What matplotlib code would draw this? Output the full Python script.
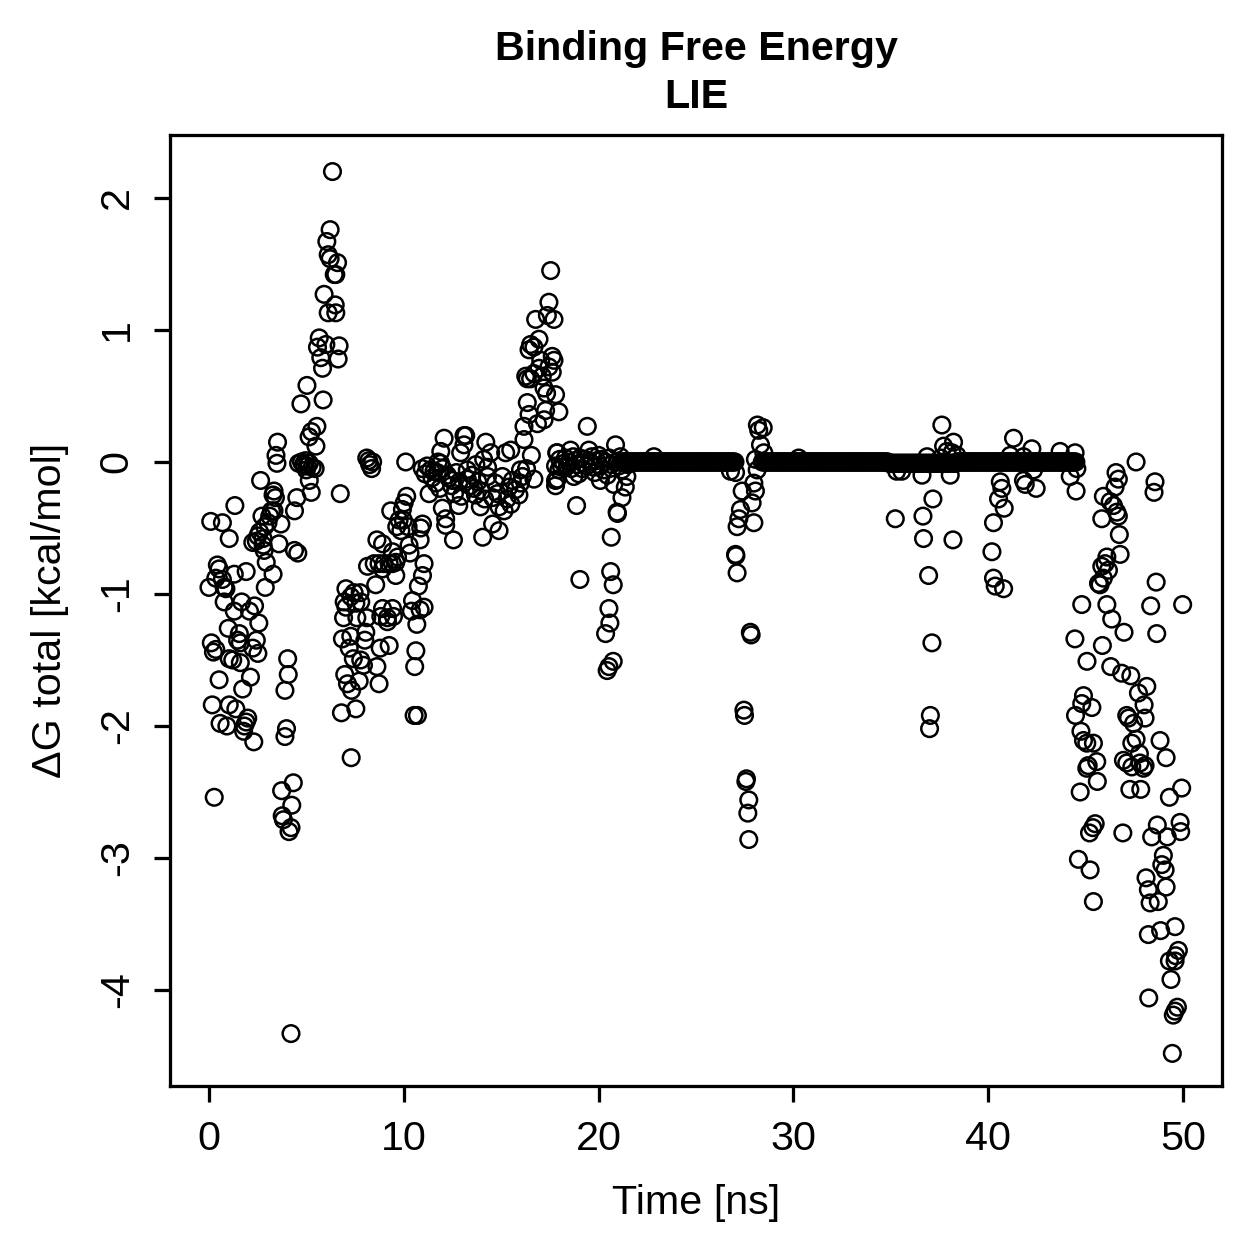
import numpy as np
import matplotlib
matplotlib.use("Agg")
import matplotlib.pyplot as plt

# ---------------- data ----------------
# scattered points: time [ns] and dG [kcal/mol]
t_a = [4.60, 4.75, 4.85, 4.95, 5.05, 5.15, 5.30, 5.45, 5.00, 4.90,
       2.65, 5.15, 5.25, 3.34, 3.29, 3.41, 4.51, 4.39, 1.33, 3.21, 3.34, 2.72, 3.12, 3.03, 3.69,
       0.09, 0.69, 2.86, 2.60, 2.51, 2.78, 2.43, 1.04, 2.25, 2.78, 3.59, 4.39, 4.56, 2.83, 2.94,
       0.43, 0.52, 1.91, 1.30, 3.29, 0.35, 0.69, 0.00, 0.78, 0.87, 2.89, 0.78, 1.68, 2.34, 2.08,
       1.30, 2.56, 0.99, 1.56, 1.47, 1.61, 2.43, 2.25, 2.51, 0.12, 0.23, 0.35, 1.04, 1.22, 1.61,
       4.04, 4.07, 3.90, 0.52, 2.13, 1.73, 0.17, 1.04, 1.38, 1.99, 1.91, 1.82, 1.78, 0.57, 0.92,
       2.30, 3.98, 3.90, 4.33, 3.73, 4.25, 3.76, 3.82, 4.21, 4.11, 0.27, 4.21,
       6.34, 6.22, 6.05, 6.12, 6.22, 6.60, 6.43, 6.51, 5.91, 6.48, 6.12, 6.51, 5.66, 5.57, 6.00,
       5.74, 5.83, 6.68, 6.63, 5.03, 4.72, 5.86, 5.54, 5.26, 5.14, 5.49, 3.52, 3.44, 3.49]
v_a = [-0.01, 0.00, -0.02, 0.01, -0.03, -0.01, -0.04, -0.05, -0.06, -0.03,
       -0.14, -0.14, -0.23, -0.22, -0.25, -0.27, -0.27, -0.37, -0.33, -0.37, -0.37, -0.41, -0.41, -0.46, -0.47,
       -0.45, -0.46, -0.49, -0.53, -0.56, -0.58, -0.60, -0.58, -0.61, -0.63, -0.62, -0.67, -0.69, -0.67, -0.76,
       -0.78, -0.81, -0.83, -0.85, -0.85, -0.88, -0.89, -0.95, -0.95, -0.96, -0.95, -1.06, -1.06, -1.09, -1.13,
       -1.13, -1.22, -1.26, -1.30, -1.35, -1.37, -1.35, -1.41, -1.45, -1.37, -1.44, -1.42, -1.49, -1.50, -1.52,
       -1.49, -1.61, -1.73, -1.65, -1.63, -1.72, -1.84, -1.84, -1.87, -1.94, -1.97, -2.00, -2.04, -1.98, -2.00,
       -2.12, -2.02, -2.08, -2.43, -2.49, -2.60, -2.68, -2.71, -2.77, -2.80, -2.54, -4.33,
       2.20, 1.76, 1.67, 1.57, 1.54, 1.51, 1.42, 1.42, 1.27, 1.19, 1.13, 1.13, 0.94, 0.87, 0.89,
       0.79, 0.71, 0.88, 0.78, 0.58, 0.44, 0.47, 0.27, 0.23, 0.19, 0.12, 0.15, 0.05, -0.01]

t_b = [6.74, 10.10, 8.10, 8.20, 8.25, 8.35, 8.40,
       10.15, 10.02, 9.93, 9.33, 9.76, 9.98, 9.64, 9.85, 10.22, 10.96, 10.87, 10.84, 10.27,
       8.62, 8.91, 9.42, 9.68, 9.59, 10.32, 8.14, 8.48, 8.73, 8.99, 9.25, 8.91, 9.42, 9.59,
       11.04, 10.96, 10.75, 8.56, 7.03, 7.45, 7.76, 7.28, 6.94, 7.79, 7.54, 7.03, 6.91, 7.59,
       8.10, 8.91, 9.42, 8.82, 9.16, 9.47, 9.16, 10.45, 10.39, 10.84, 11.04, 10.67, 6.85, 7.28,
       7.20, 8.05, 8.00, 8.79, 9.25, 10.62, 10.56, 7.41, 7.79, 7.93, 8.62, 6.97, 7.11, 7.32,
       7.71, 8.73, 6.80, 7.54, 10.53, 10.70, 7.30]
v_b = [-0.24, 0.00, 0.03, 0.01, -0.02, -0.05, 0.00,
       -0.26, -0.31, -0.36, -0.37, -0.44, -0.44, -0.49, -0.52, -0.49, -0.47, -0.50, -0.59, -0.63,
       -0.59, -0.62, -0.68, -0.72, -0.76, -0.69, -0.79, -0.77, -0.77, -0.77, -0.77, -0.81, -0.77, -0.86,
       -0.77, -0.86, -0.94, -0.93, -0.96, -0.99, -0.99, -1.02, -1.06, -1.06, -1.07, -1.10, -1.18, -1.18,
       -1.18, -1.11, -1.11, -1.17, -1.18, -1.17, -1.21, -1.05, -1.13, -1.12, -1.10, -1.23, -1.34, -1.32,
       -1.41, -1.29, -1.35, -1.41, -1.39, -1.43, -1.55, -1.49, -1.50, -1.54, -1.55, -1.61, -1.68, -1.73,
       -1.66, -1.68, -1.90, -1.87, -1.92, -1.92, -2.24]

t_c = [12.07, 11.90, 11.76, 11.30, 11.98, 12.15, 12.15,
       10.95, 11.10, 11.20, 11.45, 11.55, 11.65, 12.00, 12.30, 12.45, 12.70, 12.85, 11.85,
       17.54, 17.45, 16.77, 17.37, 17.71, 16.94, 16.51, 16.43, 16.68, 17.03, 17.62, 17.71, 17.45,
       17.62, 16.94, 16.68, 17.11, 16.26, 16.34, 16.51, 17.20, 17.33, 17.79, 16.34, 16.43, 17.28,
       17.20, 16.86, 16.17, 17.96, 16.17, 15.49, 15.23, 17.85, 13.09, 13.18, 14.21, 14.46, 12.92, 13.09,
       11.38, 11.72, 11.89, 12.24, 12.50, 12.60, 12.82, 13.26, 13.26, 13.60, 13.68, 13.93, 14.30,
       14.30, 14.56, 14.80, 14.89, 15.15, 14.56, 14.89, 14.05, 15.06, 15.40, 15.57, 15.74, 15.99,
       15.99, 15.91, 16.68, 16.09, 17.79, 17.88, 17.79,
       13.50, 13.80, 14.00, 14.15, 14.70, 15.30, 15.50, 13.40, 12.95, 16.30, 16.55, 14.10, 13.70, 12.55]
v_c = [0.18, 0.08, 0.00, -0.24, -0.35, -0.43, -0.48,
       -0.05, -0.09, -0.03, -0.12, -0.07, -0.16, -0.05, -0.12, -0.18, -0.08, -0.15, -0.20,
       1.45, 1.21, 1.08, 1.11, 1.08, 0.93, 0.89, 0.85, 0.87, 0.77, 0.80, 0.77, 0.72,
       0.68, 0.71, 0.67, 0.65, 0.65, 0.63, 0.63, 0.56, 0.52, 0.51, 0.45, 0.36, 0.39,
       0.32, 0.29, 0.27, 0.38, 0.17, 0.09, 0.07, 0.07, 0.20, 0.20, 0.15, 0.07, 0.07, 0.13,
       -0.06, -0.08, -0.01, -0.10, -0.14, -0.24, -0.33, -0.06, -0.13, -0.20, -0.25, -0.34, -0.04,
       -0.11, -0.27, -0.24, -0.34, -0.37, -0.47, -0.52, -0.57, -0.11, -0.19, -0.14, -0.21, -0.06,
       -0.16, -0.25, -0.13, -0.11, -0.03, -0.13, -0.18,
       -0.10, -0.15, -0.22, -0.28, -0.16, -0.28, -0.32, -0.18, -0.26, -0.05, 0.05, 0.02, -0.02, -0.59]

t_d = [19.42, 17.88, 18.56, 19.50, 20.87, 21.12, 20.00, 17.79, 18.73, 18.98, 20.09, 20.78, 21.37,
       21.45, 21.20, 19.74, 19.23, 18.21, 17.96,
       18.00, 18.10, 18.30, 18.40, 18.50, 18.60, 18.70, 18.80, 18.90, 19.05, 19.15, 19.30, 19.40,
       19.55, 19.65, 19.80, 19.90, 20.05, 20.15, 20.25, 20.35, 20.45, 20.55, 20.65, 20.95, 21.05,
       21.30, 21.50,
       18.87, 20.95, 20.97, 20.65, 19.04, 20.62, 20.75, 20.53, 20.58, 20.36, 20.75, 20.53, 20.44, 21.20]
v_d = [0.27, 0.07, 0.09, 0.09, 0.13, 0.04, 0.05, -0.14, -0.11, -0.09, -0.14, -0.17, -0.19,
       -0.11, -0.06, -0.04, -0.01, -0.01, -0.06,
       0.02, -0.04, 0.03, -0.03, 0.00, -0.05, 0.04, 0.01, -0.02, 0.03, -0.05, 0.02, -0.03,
       0.00, 0.04, -0.08, 0.01, -0.03, 0.02, -0.06, 0.00, -0.10, 0.03, -0.02, 0.00, -0.03,
       0.00, -0.02,
       -0.33, -0.38, -0.39, -0.57, -0.89, -0.83, -0.93, -1.11, -1.22, -1.30, -1.51, -1.55, -1.58, -0.27]

t_e = [22.84, 26.77, 27.03, 28.22, 28.15, 28.45, 28.31, 28.48, 28.05, 28.14, 27.97, 28.05, 27.37,
       27.88, 27.28, 27.20, 27.11, 27.97, 27.03, 27.05, 27.11, 27.79, 27.83, 27.46, 27.49, 27.59,
       27.56, 27.71, 27.66, 27.71,
       30.27, 37.62, 38.22, 37.71, 37.88, 38.14, 38.39, 36.86, 37.56, 35.30, 35.56, 36.60, 38.05,
       37.16, 35.23, 36.65, 36.68, 38.19, 36.94, 37.11, 37.03, 36.99,
       41.30, 40.62, 40.70, 40.53, 40.82, 40.27, 40.19, 40.27, 40.36, 40.79,
       42.24, 43.69, 44.46, 41.13, 41.81, 42.33, 44.55, 44.21, 41.81, 41.90, 42.46, 44.51]
v_e = [0.04, -0.07, -0.08, 0.24, 0.28, 0.26, 0.13, 0.07, 0.02, -0.06, -0.16, -0.22, -0.22,
       -0.31, -0.36, -0.43, -0.49, -0.46, -0.70, -0.71, -0.84, -1.29, -1.31, -1.88, -1.92, -2.40,
       -2.42, -2.56, -2.66, -2.86,
       0.03, 0.28, 0.15, 0.12, 0.08, 0.07, 0.05, 0.04, 0.03, -0.07, -0.07, -0.10, -0.10,
       -0.28, -0.43, -0.41, -0.58, -0.59, -0.86, -1.37, -1.92, -2.02,
       0.18, -0.15, -0.20, -0.28, -0.35, -0.46, -0.68, -0.88, -0.94, -0.96,
       0.10, 0.08, 0.07, 0.05, 0.04, -0.06, -0.05, -0.11, -0.14, -0.17, -0.20, -0.22]

t_f = [46.56, 46.68, 46.51, 48.56, 48.51, 45.91, 46.26, 46.43, 46.60, 46.68, 45.83, 46.73, 46.77,
       46.09, 46.00, 45.83, 46.17, 45.91, 45.66, 45.74, 48.62, 44.80, 46.09, 48.34, 49.98, 46.34,
       46.97, 48.65, 44.45, 45.86, 45.07, 46.29, 46.85, 47.32, 48.14, 47.71, 48.00, 48.05, 44.89,
       44.80, 45.32, 44.48, 47.11, 47.20, 47.46, 44.76, 44.89, 45.06, 45.40, 48.82, 49.13, 47.37,
       47.59, 47.76, 46.94, 47.11, 47.79, 48.05, 45.13, 45.57, 47.59,
       45.06, 47.37, 47.97, 45.60, 44.72, 47.27, 47.83, 49.30, 49.93, 45.49, 45.37, 45.20, 46.91,
       48.68, 48.39, 49.19, 49.85, 49.88, 48.99, 48.91, 49.08, 44.63, 45.23, 48.10, 48.22, 49.13,
       48.31, 48.73, 45.40, 48.22, 48.85, 49.59, 49.76, 49.62, 49.30, 49.59, 49.38, 48.24, 49.71,
       49.59, 49.50, 49.45]
v_f = [-0.08, -0.13, -0.19, -0.15, -0.23, -0.26, -0.30, -0.33, -0.38, -0.41, -0.43, -0.55, -0.70,
       -0.72, -0.77, -0.79, -0.82, -0.88, -0.92, -0.93, -0.91, -1.08, -1.08, -1.09, -1.08, -1.19,
       -1.29, -1.30, -1.34, -1.39, -1.51, -1.55, -1.60, -1.62, -1.70, -1.75, -1.84, -1.94, -1.77,
       -1.83, -1.86, -1.92, -1.92, -1.94, -1.98, -2.04, -2.11, -2.13, -2.13, -2.11, -2.24, -2.13,
       -2.10, -2.21, -2.26, -2.28, -2.28, -2.30, -2.30, -2.27, 0.00,
       -2.32, -2.31, -2.32, -2.42, -2.50, -2.48, -2.48, -2.54, -2.47, -2.74, -2.77, -2.81, -2.81,
       -2.75, -2.84, -2.84, -2.73, -2.80, -2.98, -3.05, -3.09, -3.01, -3.09, -3.15, -3.24, -3.22,
       -3.34, -3.33, -3.33, -3.58, -3.55, -3.52, -3.70, -3.74, -3.78, -3.78, -3.92, -4.06, -4.13,
       -4.16, -4.19, -4.48]

# dense plateau frames (sampling interval 0.05 ns), values read as ~0
band1_start, band2_start, dt = 21.20, 28.40, 0.05
band1_v = [
    0.00, 0.00, 0.00, 0.00, 0.00, 0.00, 0.00, 0.00, 0.00, 0.00, 0.00, 0.00, 0.00, 0.00, 0.00, 0.00, 0.00, 0.00, 0.00, 0.00,
    0.00, 0.00, 0.00, 0.00, 0.00, 0.00, 0.00, 0.00, 0.00, 0.00, 0.00, 0.00, 0.00, 0.00, 0.00, 0.00, 0.00, 0.00, 0.00, 0.00,
    0.00, 0.00, 0.00, 0.00, 0.00, 0.00, 0.00, 0.00, 0.00, 0.00, 0.00, 0.00, 0.00, 0.00, 0.00, 0.00, 0.00, 0.00, 0.00, 0.00,
    0.00, 0.00, 0.00, 0.00, 0.00, 0.00, 0.00, 0.00, 0.00, 0.00, 0.00, 0.00, 0.00, 0.00, 0.00, 0.00, 0.00, 0.00, 0.00, 0.00,
    0.00, 0.00, 0.00, 0.00, 0.00, 0.00, 0.00, 0.00, 0.00, 0.00, 0.00, 0.00, 0.00, 0.00, 0.00, 0.00, 0.00, 0.00, 0.00, 0.00,
    0.00, 0.00, 0.00, 0.00, 0.00, 0.00, 0.00, 0.00, 0.00, 0.00, 0.00, 0.00, 0.00, 0.00, 0.00, 0.00, 0.00]
band2_v = [
    0.00, 0.00, 0.00, 0.00, 0.00, 0.00, 0.00, 0.00, 0.00, 0.00, 0.00, 0.00, 0.00, 0.00, 0.00, 0.00, 0.00, 0.00, 0.00, 0.00,
    0.00, 0.00, 0.00, 0.00, 0.00, 0.00, 0.00, 0.00, 0.00, 0.00, 0.00, 0.00, 0.00, 0.00, 0.00, 0.00, 0.00, 0.00, 0.00, 0.00,
    0.00, 0.00, 0.00, 0.00, 0.00, 0.00, 0.00, 0.00, 0.00, 0.00, 0.00, 0.00, 0.00, 0.00, 0.00, 0.00, 0.00, 0.00, 0.00, 0.00,
    0.00, 0.00, 0.00, 0.00, 0.00, 0.00, 0.00, 0.00, 0.00, 0.00, 0.00, 0.00, 0.00, 0.00, 0.00, 0.00, 0.00, 0.00, 0.00, 0.00,
    0.00, 0.00, 0.00, 0.00, 0.00, 0.00, 0.00, 0.00, 0.00, 0.00, 0.00, 0.00, 0.00, 0.00, 0.00, 0.00, 0.00, 0.00, 0.00, 0.00,
    0.00, 0.00, 0.00, 0.00, 0.00, 0.00, 0.00, 0.00, 0.00, 0.00, 0.00, 0.00, 0.00, 0.00, 0.00, 0.00, 0.00, 0.00, 0.00, 0.00,
    0.00, 0.00, 0.00, 0.00, 0.00, 0.00, 0.00, 0.00, 0.00, 0.00, -0.01, -0.01, -0.01, -0.01, -0.01, -0.01, -0.01, -0.01, -0.01, -0.01,
    -0.01, -0.01, -0.01, -0.01, -0.01, -0.01, -0.01, -0.01, -0.01, -0.01, -0.01, -0.01, -0.01, -0.01, -0.01, -0.01, -0.01, -0.01, -0.01, -0.01,
    -0.01, -0.01, -0.01, -0.01, -0.01, -0.01, -0.01, -0.01, -0.01, -0.01, -0.01, -0.01, -0.01, -0.01, -0.01, -0.01, -0.01, -0.01, -0.01, -0.01,
    -0.01, -0.01, -0.01, -0.01, -0.01, -0.01, -0.01, -0.01, -0.01, -0.01, -0.01, -0.01, -0.01, -0.01, -0.01, -0.01, -0.01, -0.01, -0.01, -0.01,
    0.00, 0.00, 0.00, 0.00, 0.00, 0.00, 0.00, 0.00, 0.00, 0.00, 0.00, 0.00, 0.00, 0.00, 0.00, 0.00, 0.00, 0.00, 0.00, 0.00,
    0.00, 0.00, 0.00, 0.00, 0.00, 0.00, 0.00, 0.00, 0.00, 0.00, 0.00, 0.00, 0.00, 0.00, 0.00, 0.00, 0.00, 0.00, 0.00, 0.00,
    0.00, 0.00, 0.00, 0.00, 0.00, 0.00, 0.00, 0.00, 0.00, 0.00, 0.00, 0.00, 0.00, 0.00, 0.00, 0.00, 0.00, 0.00, 0.00, 0.00,
    0.00, 0.00, 0.00, 0.00, 0.00, 0.00, 0.00, 0.00, 0.00, 0.00, 0.00, 0.00, 0.00, 0.00, 0.00, 0.00, 0.00, 0.00, 0.00, 0.00,
    0.00, 0.00, 0.00, 0.00, 0.00, 0.00, 0.00, 0.00, 0.00, 0.00, 0.00, 0.00, 0.00, 0.00, 0.00, 0.00, 0.00, 0.00, 0.00, 0.00,
    0.00, 0.00, 0.00, 0.00, 0.00, 0.00, 0.00, 0.00, 0.00, 0.00, 0.00, 0.00, 0.00, 0.00, 0.00, 0.00, 0.00, 0.00, 0.00, 0.00,
    0.00, 0.00, 0.00]

x_ticks = [0, 10, 20, 30, 40, 50]
y_ticks = [-4, -3, -2, -1, 0, 1, 2]
title_lines = ["Binding Free Energy", "LIE"]
x_label = "Time [ns]"
y_label = "\u0394G total [kcal/mol]"

# ---------------- assemble ----------------
band1_t = band1_start + dt * np.arange(len(band1_v))
band2_t = band2_start + dt * np.arange(len(band2_v))
t_all = np.concatenate([t_a, t_b, t_c, t_d, t_e, t_f, band1_t, band2_t])
v_all = np.concatenate([v_a, v_b, v_c, v_d, v_e, v_f, band1_v, band2_v])

W = H = 1259
DPI = 180
plt.rcParams['font.family'] = ['Liberation Sans', 'DejaVu Sans']
FS = 16.5

fig = plt.figure(figsize=(W / DPI, H / DPI), dpi=DPI)
L, R, T, B = 170, 1222, 135, 1086
ax = fig.add_axes([L / W, 1 - B / H, (R - L) / W, (B - T) / H])

ax.scatter(t_all, v_all, s=44, facecolors='none', edgecolors='black', linewidths=1.0)

ax.set_xlim(-2, 52)
ax.set_ylim(-4.727, 2.477)
ax.set_xticks(x_ticks)
ax.set_yticks(y_ticks)
ax.set_xticklabels([str(v) for v in x_ticks])
ax.set_yticklabels([str(v) for v in y_ticks], rotation=90, va='center')
for s in ax.spines.values():
    s.set_linewidth(1.3)
ax.tick_params(axis='both', direction='out', length=6.4, width=1.3, labelsize=FS, pad=7.3)

fig.text(((L + R) / 2) / W, 1 - 60 / H, title_lines[0], ha='center', va='baseline',
         fontsize=FS, fontweight='bold')
fig.text(((L + R) / 2) / W, 1 - 108 / H, title_lines[1], ha='center', va='baseline',
         fontsize=FS, fontweight='bold')
fig.text(((L + R) / 2) / W, 1 - 1203 / H, x_label, ha='center', va='center', fontsize=FS)
fig.text(50 / W, 1 - ((T + B) / 2) / H, y_label, ha='center', va='center', rotation=90, fontsize=FS)

fig.savefig("out.png", dpi=DPI)
